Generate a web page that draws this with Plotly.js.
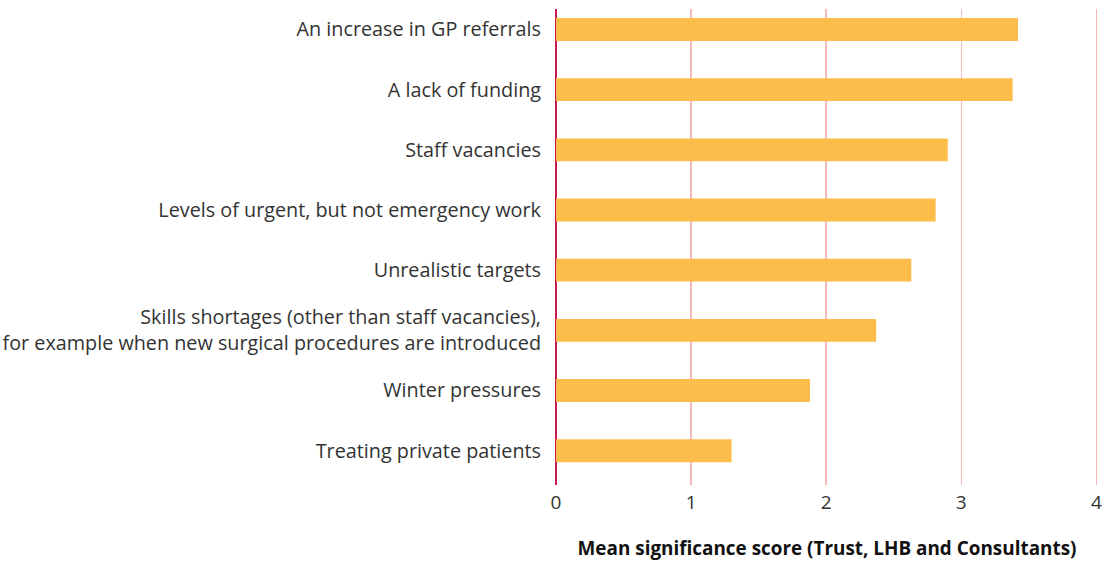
<!DOCTYPE html>
<html><head><meta charset="utf-8">
<script src="https://cdn.plot.ly/plotly-3.0.1.min.js"></script>
<style>body{margin:0;background:#fff}#chart{width:1110px;height:563px}</style>
</head><body><div id="chart"></div>
<script>
const categories = [
  "An increase in GP referrals",
  "A lack of funding",
  "Staff vacancies",
  "Levels of urgent, but not emergency work",
  "Unrealistic targets",
  "Skills shortages (other than staff vacancies),<br>for example when new surgical procedures are introduced",
  "Winter pressures",
  "Treating private patients"
];
const scores = [3.42, 3.38, 2.90, 2.81, 2.63, 2.37, 1.88, 1.30];
const xTicks = [0, 1, 2, 3, 4];
const xTitle = "Mean significance score (Trust, LHB and Consultants)";

const font = "'Open Sans', sans-serif";
Plotly.newPlot('chart', [{
  type: 'bar', orientation: 'h',
  x: scores, y: categories,
  width: 0.38,
  marker: {color: '#FDBD4A'},
  hoverinfo: 'x+y'
}], {
  width: 1110, height: 563,
  margin: {l: 556, r: 12, t: 9, b: 78},
  paper_bgcolor: '#fff', plot_bgcolor: '#fff',
  showlegend: false,
  font: {family: font, color: '#222', size: 18},
  xaxis: {
    range: [0, 4.012], tickvals: xTicks, ticktext: xTicks.map(String),
    showgrid: true, gridcolor: '#F6B9B9', gridwidth: 1.5,
    zeroline: true, zerolinecolor: '#C8194B', zerolinewidth: 2,
    showline: false, ticks: '',
    ticklabelstandoff: 4,
    tickfont: {size: 19, color: '#333'},
    title: {text: '<b>' + xTitle + '</b>', font: {size: 18.9, color: '#111'}, standoff: 27}
  },
  yaxis: {
    type: 'category', autorange: false, range: [7.57, -0.34],
    showgrid: false, zeroline: false, showline: false, ticks: '',
    ticklabelstandoff: 14,
    tickfont: {size: 19.8, color: '#333'}
  }
}, {displayModeBar: false, staticPlot: true});
</script></body></html>
